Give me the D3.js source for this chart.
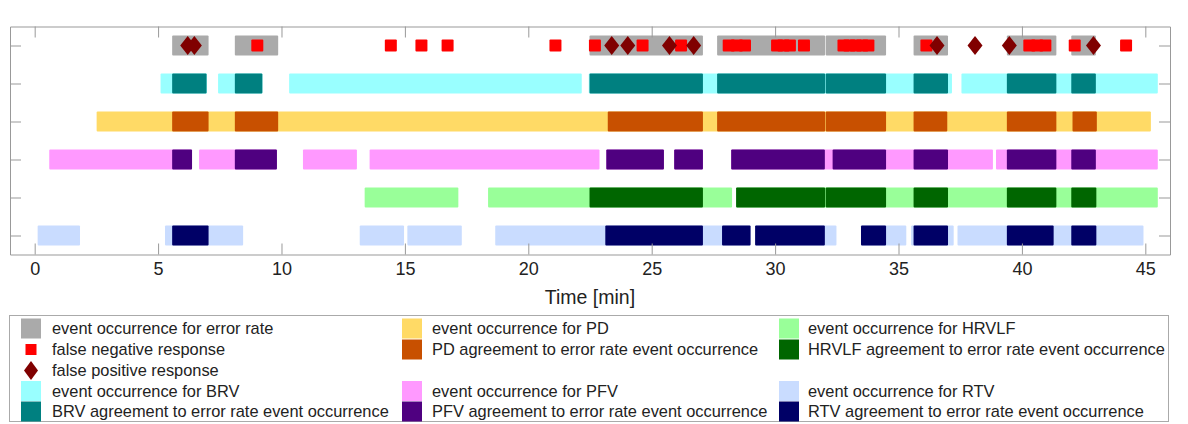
<!DOCTYPE html>
<html>
<head>
<meta charset="utf-8">
<script src="https://cdn.jsdelivr.net/npm/d3@7"></script>
<style>
  body { margin: 0; background: #fff; }
  text { font-family: "Liberation Sans Narrow", "Liberation Sans", Arial, sans-serif; fill: #222; }
  .legend text { font-family: "Liberation Sans", Arial, sans-serif; }
</style>
</head>
<body>
<svg id="chart" width="1188" height="424"></svg>
<script>
// ==========================================================================
// DATA (minutes)
// ==========================================================================
var xTicks = [0, 5, 10, 15, 20, 25, 30, 35, 40, 45];
var rowNames = ["error rate", "BRV", "PD", "PFV", "HRVLF", "RTV"];

var errorEvents = [[5.57, 7.07], [8.11, 9.89], [22.48, 27.1], [27.65, 32.05], [32.05, 34.52],
                   [35.61, 37.03], [39.39, 41.42], [42.0, 43.02]];
var falseNegative = [9.02, 14.43, 15.67, 16.73, 21.1, 22.7, 24.63, 26.19, 28.12, 28.45, 28.78,
                     30.08, 30.34, 30.6, 31.17, 32.77, 33.01, 33.27, 33.53, 33.78, 36.13,
                     40.3, 40.62, 40.95, 42.14, 44.22];
var falsePositive = [6.2, 6.47, 23.38, 24.03, 25.72, 26.7, 36.56, 38.1, 39.49, 42.9];

var brvEvents = [[5.1, 7.0], [7.43, 9.25], [10.31, 22.19], [22.45, 37.19], [37.55, 45.53]];
var brvAgree = [[5.57, 6.99], [8.11, 9.25], [22.48, 27.1], [27.65, 32.05], [32.05, 34.52],
                [35.61, 37.03], [39.39, 41.42], [42.0, 43.02]];

var pdEvents = [[2.51, 45.25]];
var pdAgree = [[5.57, 7.07], [8.11, 9.89], [23.22, 27.1], [27.65, 32.05], [32.05, 34.52],
               [35.61, 37.0], [39.39, 41.42], [42.05, 43.06]];

var pfvEvents = [[0.59, 6.4], [6.66, 9.84], [10.87, 13.08], [13.57, 22.91], [23.16, 25.52],
                 [25.91, 27.1], [28.22, 38.85], [38.95, 45.53]];
var pfvAgree = [[5.57, 6.4], [8.11, 9.84], [23.16, 25.52], [25.91, 27.1], [28.22, 32.04],
                [32.33, 34.52], [35.61, 37.03], [39.39, 41.42], [42.0, 43.02]];

var hrvlfEvents = [[13.37, 17.19], [18.37, 28.28], [28.42, 45.53]];
var hrvlfAgree = [[22.48, 27.1], [28.42, 32.05], [32.05, 34.52], [35.61, 37.03],
                  [39.39, 41.42], [42.0, 43.04]];

var rtvEvents = [[0.12, 1.86], [5.28, 8.47], [13.17, 14.99], [15.1, 17.33], [18.66, 29.03],
                 [29.19, 32.51], [33.48, 35.34], [35.51, 37.26], [37.39, 44.95]];
var rtvAgree = [[5.57, 7.07], [23.12, 27.1], [27.85, 29.03], [29.19, 32.04], [33.48, 34.52],
                [35.61, 37.03], [39.39, 41.31], [42.0, 43.04]];

// ==========================================================================
// D3 MAIN
// ==========================================================================
var svg = d3.select("#chart");

var x = d3.scaleLinear().domain([-1, 46]).range([10, 1170]);
var y = d3.scaleLinear().domain([0.5, 6.5]).range([26.5, 254.5]);
var half = 0.264; // bar half height in row units

// layers: [row, segments, color] drawn in order
var layers = [
  [2, brvEvents, "#99ffff"], [2, brvAgree, "#008080"],
  [3, pdEvents, "#ffda66"], [3, pdAgree, "#c85000"],
  [4, pfvEvents, "#ff99ff"], [4, pfvAgree, "#4f0080"],
  [5, hrvlfEvents, "#99ff99"], [5, hrvlfAgree, "#006600"],
  [6, rtvEvents, "#c9dcff"], [6, rtvAgree, "#000066"],
  [1, errorEvents, "#aaaaaa"]
];

var bars = svg.append("g");
layers.forEach(function(l) {
  bars.append("g").selectAll("rect").data(l[1]).enter().append("rect")
    .attr("x", d => x(d[0]))
    .attr("y", y(l[0] - half))
    .attr("width", d => Math.max(0, x(d[1]) - x(d[0]) - 0.6))
    .attr("height", y(l[0] + half) - y(l[0] - half))
    .attr("rx", 1)
    .attr("fill", l[2]);
});

svg.append("g").selectAll("rect").data(falseNegative).enter().append("rect")
  .attr("x", d => x(d) - 6).attr("y", y(1) - 6)
  .attr("width", 12).attr("height", 12).attr("rx", 1)
  .attr("fill", "#ff0000");

function diamond(w, h) {
  return "M0," + (-h) + "L" + w + ",0L0," + h + "L" + (-w) + ",0Z";
}
svg.append("g").selectAll("path").data(falsePositive).enter().append("path")
  .attr("transform", d => "translate(" + x(d) + "," + y(1) + ")")
  .attr("d", diamond(7.5, 9.5))
  .attr("fill", "#800000");

// Axes (ticks pointing inward on all four sides)
var axisColor = "#999";
var gx = svg.append("g").attr("transform", "translate(0," + y(6.5) + ")")
  .call(d3.axisBottom(x).tickValues(xTicks).tickSize(-11).tickSizeOuter(0).tickPadding(8));
var gxTop = svg.append("g").attr("transform", "translate(0," + y(0.5) + ")")
  .call(d3.axisTop(x).tickValues(xTicks).tickSize(-11).tickSizeOuter(0).tickFormat(""));
var gyL = svg.append("g").attr("transform", "translate(" + x(-1) + ",0)")
  .call(d3.axisLeft(y).tickValues(d3.range(1, 7)).tickSize(-11).tickSizeOuter(0).tickFormat(""));
var gyR = svg.append("g").attr("transform", "translate(" + x(46) + ",0)")
  .call(d3.axisRight(y).tickValues(d3.range(1, 7)).tickSize(-11).tickSizeOuter(0).tickFormat(""));

[gx, gxTop, gyL, gyR].forEach(function(g) {
  g.selectAll("path, line").attr("stroke", axisColor);
});
gx.selectAll("text").style("font-size", "18px").attr("fill", "#222");

svg.append("text")
  .attr("x", (x(-1) + x(46)) / 2).attr("y", 304)
  .attr("text-anchor", "middle")
  .style("font-size", "19.5px")
  .text("Time [min]");

// Legend
var legendItems = [
  {col: 0, row: 0, type: "box", color: "#aaaaaa", label: "event occurrence for error rate"},
  {col: 0, row: 1, type: "square", color: "#ff0000", label: "false negative response"},
  {col: 0, row: 2, type: "diamond", color: "#800000", label: "false positive response"},
  {col: 0, row: 3, type: "box", color: "#99ffff", label: "event occurrence for BRV"},
  {col: 0, row: 4, type: "box", color: "#008080", label: "BRV agreement to error rate event occurrence"},
  {col: 1, row: 0, type: "box", color: "#ffda66", label: "event occurrence for PD"},
  {col: 1, row: 1, type: "box", color: "#c85000", label: "PD agreement to error rate event occurrence"},
  {col: 1, row: 3, type: "box", color: "#ff99ff", label: "event occurrence for PFV"},
  {col: 1, row: 4, type: "box", color: "#4f0080", label: "PFV agreement to error rate event occurrence"},
  {col: 2, row: 0, type: "box", color: "#99ff99", label: "event occurrence for HRVLF"},
  {col: 2, row: 1, type: "box", color: "#006600", label: "HRVLF agreement to error rate event occurrence"},
  {col: 2, row: 3, type: "box", color: "#c9dcff", label: "event occurrence for RTV"},
  {col: 2, row: 4, type: "box", color: "#000066", label: "RTV agreement to error rate event occurrence"}
];
var colX = [21, 402, 779];
var rowY = [328.5, 349.5, 370.5, 391, 411.5];

var legend = svg.append("g").attr("class", "legend");
legend.append("rect")
  .attr("x", 9.5).attr("y", 315.5).attr("width", 1159).attr("height", 106)
  .attr("fill", "none").attr("stroke", "#aaa");

var li = legend.selectAll("g.item").data(legendItems).enter().append("g")
  .attr("transform", d => "translate(" + colX[d.col] + "," + rowY[d.row] + ")");
li.each(function(d) {
  var g = d3.select(this);
  if (d.type == "box") {
    g.append("rect").attr("x", 0).attr("y", -10).attr("width", 20).attr("height", 20).attr("fill", d.color);
  } else if (d.type == "square") {
    g.append("rect").attr("x", 4.5).attr("y", -5.5).attr("width", 11).attr("height", 11).attr("fill", d.color);
  } else {
    g.append("path").attr("transform", "translate(10,0)").attr("d", diamond(7, 9.5)).attr("fill", d.color);
  }
  g.append("text").attr("x", d.col == 0 ? 31 : (d.col == 1 ? 30 : 29)).attr("y", 0).attr("dy", "0.35em")
    .style("font-size", "16.4px").text(d.label);
});
</script>
</body>
</html>
